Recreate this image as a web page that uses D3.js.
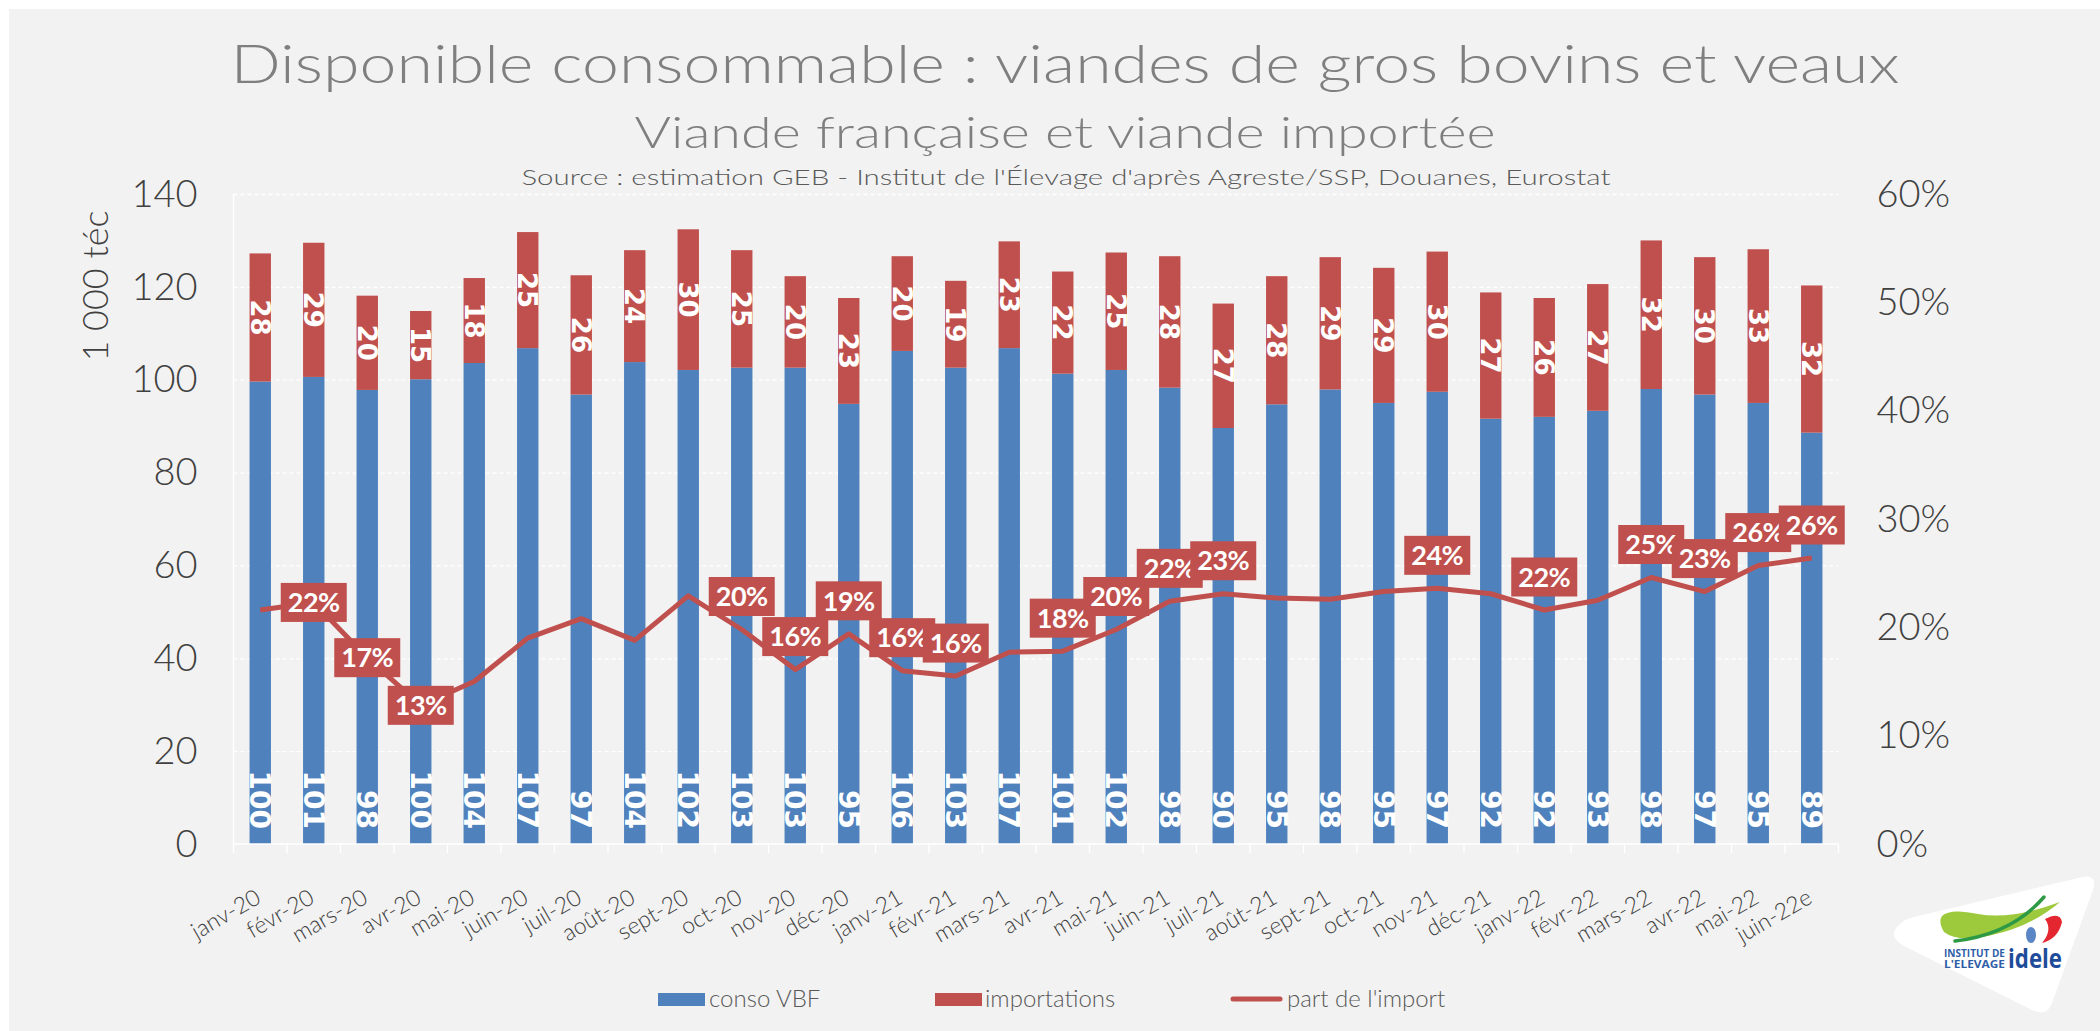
<!DOCTYPE html>
<html><head><meta charset="utf-8">
<script src="https://cdn.jsdelivr.net/npm/d3@7"></script>
<style>
html,body{margin:0;padding:0;background:#fff;}
svg{display:block;}
</style></head><body>
<svg id="chart" width="2100" height="1031"></svg>
<script>
// ---------- DATA ----------
const categories = ["janv-20","févr-20","mars-20","avr-20","mai-20","juin-20","juil-20","août-20","sept-20","oct-20","nov-20","déc-20",
  "janv-21","févr-21","mars-21","avr-21","mai-21","juin-21","juil-21","août-21","sept-21","oct-21","nov-21","déc-21",
  "janv-22","févr-22","mars-22","avr-22","mai-22","juin-22e"];
const consoVBF = [99.6,100.6,97.8,100.1,103.6,106.8,96.8,103.8,102.1,102.6,102.6,94.8,
  106.2,102.6,106.8,101.3,102.1,98.3,89.6,94.7,97.9,95.0,97.4,91.6,
  92.0,93.3,98.0,96.8,95.0,88.6];
const importations = [27.6,28.9,20.3,14.7,18.3,25.0,25.7,24.1,30.3,25.3,19.7,22.8,
  20.4,18.7,23.0,22.0,25.3,28.3,26.8,27.6,28.5,29.1,30.2,27.2,
  25.6,27.3,32.0,29.6,33.1,31.7];
const partImport = [21.6,22.3,17.2,12.8,15.0,19.0,20.8,18.8,22.9,19.8,16.1,19.4,
  16.0,15.5,17.7,17.8,19.8,22.4,23.1,22.7,22.6,23.3,23.6,23.1,
  21.6,22.5,24.6,23.3,25.7,26.4];
const labelledShare = ["févr-20","mars-20","avr-20","oct-20","nov-20","déc-20","janv-21","févr-21","avr-21","mai-21",
  "juin-21","juil-21","nov-21","janv-22","mars-22","avr-22","mai-22","juin-22e"];
const leftTicks = [0,20,40,60,80,100,120,140];
const rightTicks = [0,10,20,30,40,50,60];
const seriesNames = ["conso VBF","importations","part de l'import"];
const titleText = "Disponible consommable : viandes de gros bovins et veaux";
const subtitleText = "Viande française et viande importée";
const sourceText = "Source : estimation GEB - Institut de l'Élevage d'après Agreste/SSP, Douanes, Eurostat";
const yTitle = "1 000 téc";

// ---------- LAYOUT ----------
const W = 2100, H = 1031;
const M = {left: 233.5, right: 1838.5, top: 194, bottom: 844};
const BLUE = "#4f81bd", RED = "#c0504d";
const FONT = "Lato, 'Open Sans', sans-serif";
const centeredLabels = ["févr-20","mars-20","avr-20"];

const svg = d3.select("#chart");
svg.append("rect").attr("x", 9).attr("y", 9).attr("width", W - 9).attr("height", H - 9).attr("fill", "#f2f2f2");

const x = d3.scaleBand().domain(categories).range([M.left, M.right]).paddingInner(0.6).paddingOuter(0.3);
const y = d3.scaleLinear().domain([0, 140]).range([M.bottom, M.top]);
const y2 = d3.scaleLinear().domain([0, 60]).range([M.bottom, M.top]);
const cx = c => x(c) + x.bandwidth() / 2;

// gridlines
const grid = svg.append("g").attr("transform", `translate(${M.left},0)`)
  .call(d3.axisLeft(y).tickValues(leftTicks.slice(1)).tickSize(-(M.right - M.left)).tickFormat(""));
grid.select(".domain").remove();
grid.selectAll("line").attr("stroke", "#fff").attr("stroke-width", 1.3).attr("stroke-dasharray", "4,3");

// left axis line
svg.append("line").attr("x1", M.left).attr("x2", M.left).attr("y1", M.top).attr("y2", M.bottom)
  .attr("stroke", "#fff").attr("stroke-width", 1.5);

// left tick labels
const yAx = svg.append("g").attr("transform", `translate(${M.left - 36},0)`)
  .call(d3.axisLeft(y).tickValues(leftTicks).tickSize(0).tickPadding(0));
yAx.select(".domain").remove();
yAx.selectAll("text").attr("font-family", FONT).attr("font-weight", 300).attr("font-size", 38).attr("fill", "#404040");

// right tick labels
const yAx2 = svg.append("g").attr("transform", `translate(${M.right + 38},0)`)
  .call(d3.axisRight(y2).tickValues(rightTicks).tickSize(0).tickPadding(0).tickFormat(d => d + "%"));
yAx2.select(".domain").remove();
yAx2.selectAll("text").attr("font-family", FONT).attr("font-weight", 300).attr("font-size", 38).attr("fill", "#404040");

// y title
svg.append("text").attr("transform", `translate(108,286) rotate(-90)`).attr("text-anchor", "middle")
  .attr("font-family", FONT).attr("font-weight", 300).attr("font-size", 36).attr("fill", "#404040").text(yTitle);

// bars
const table = categories.map((c, i) => ({cat: c, conso: consoVBF[i], imp: importations[i]}));
const stacked = d3.stack().keys(["conso", "imp"])(table);
const colors = [BLUE, RED];
stacked.forEach((layer, li) => {
  svg.append("g").selectAll("rect").data(layer).join("rect")
    .attr("x", d => x(d.data.cat)).attr("width", x.bandwidth())
    .attr("y", d => y(d[1])).attr("height", d => y(d[0]) - y(d[1]))
    .attr("fill", colors[li]);
});

// bottom axis line + ticks
svg.append("line").attr("x1", M.left).attr("x2", M.right).attr("y1", M.bottom).attr("y2", M.bottom)
  .attr("stroke", "#fff").attr("stroke-width", 1.5);
const gap = (x.step() - x.bandwidth()) / 2;
const bounds = categories.map(c => x(c) - gap).concat([M.right]);
svg.append("g").selectAll("line").data(bounds).join("line")
  .attr("x1", d => d).attr("x2", d => d).attr("y1", M.bottom).attr("y2", M.bottom + 9)
  .attr("stroke", "#fff").attr("stroke-width", 1.3);

// bar labels
svg.append("g").selectAll("text").data(stacked[0]).join("text")
  .attr("transform", d => `translate(${cx(d.data.cat)},${y(0) - 15}) rotate(90)`)
  .attr("text-anchor", "end").attr("dy", "0.36em")
  .attr("font-family", "'DejaVu Sans', sans-serif").attr("font-weight", "bold").attr("font-size", 28).attr("fill", "#fff")
  .text(d => Math.round(d.data.conso));
svg.append("g").selectAll("text").data(stacked[1]).join("text")
  .attr("transform", d => `translate(${cx(d.data.cat)},${(y(d[0]) + y(d[1])) / 2}) rotate(90)`)
  .attr("text-anchor", "middle").attr("dy", "0.36em")
  .attr("font-family", "'DejaVu Sans', sans-serif").attr("font-weight", "bold").attr("font-size", 26).attr("fill", "#fff")
  .text(d => Math.round(d.data.imp));

// line
const linePts = categories.map((c, i) => ({cat: c, v: partImport[i]}));
svg.append("path").datum(linePts)
  .attr("d", d3.line().x(d => cx(d.cat)).y(d => y2(d.v)))
  .attr("fill", "none").attr("stroke", RED).attr("stroke-width", 5).attr("stroke-linejoin", "round");

// line labels
const lab = svg.append("g");
linePts.filter(d => labelledShare.includes(d.cat)).forEach(d => {
  const px = cx(d.cat);
  const py = y2(d.v) + (centeredLabels.includes(d.cat) ? 0 : -33);
  lab.append("rect").attr("x", px - 33).attr("y", py - 19.5).attr("width", 66).attr("height", 39).attr("fill", RED);
  lab.append("text").attr("x", px).attr("y", py).attr("dy", "0.36em").attr("text-anchor", "middle")
    .attr("font-family", FONT).attr("font-weight", "bold").attr("font-size", 27).attr("fill", "#fff")
    .attr("letter-spacing", -0.5)
    .text(Math.round(d.v) + "%");
});

// x labels
svg.append("g").selectAll("text").data(categories).join("text")
  .attr("transform", c => `translate(${cx(c) + 2},${M.bottom + 58}) rotate(-30)`)
  .attr("text-anchor", "end")
  .attr("font-family", FONT).attr("font-weight", 300).attr("font-size", 23).attr("fill", "#404040")
  .text(c => c);

// titles
function fitText(sel, target) {
  const w = sel.node().getComputedTextLength();
  if (Math.abs(w - target) > 4) sel.attr("textLength", target).attr("lengthAdjust", "spacingAndGlyphs");
}
const t1 = svg.append("text").attr("x", 1065).attr("y", 83).attr("text-anchor", "middle")
  .attr("font-family", FONT).attr("font-weight", 300).attr("font-size", 54).attr("fill", "#7f7f7f").text(titleText);
fitText(t1, 1669);
const t2 = svg.append("text").attr("x", 1065).attr("y", 148).attr("text-anchor", "middle")
  .attr("font-family", FONT).attr("font-weight", 300).attr("font-size", 44).attr("fill", "#7f7f7f").text(subtitleText);
fitText(t2, 861);
const t3 = svg.append("text").attr("x", 1066).attr("y", 185).attr("text-anchor", "middle")
  .attr("font-family", FONT).attr("font-weight", 300).attr("font-size", 22).attr("fill", "#595959").text(sourceText);
fitText(t3, 1089);

// legend
const lg = svg.append("g").attr("font-family", FONT).attr("font-weight", 300).attr("font-size", 24).attr("fill", "#595959");
lg.append("rect").attr("x", 658).attr("y", 993).attr("width", 47).attr("height", 13).attr("fill", BLUE);
lg.append("text").attr("x", 709).attr("y", 1007).text(seriesNames[0]);
lg.append("rect").attr("x", 935).attr("y", 993).attr("width", 47).attr("height", 13).attr("fill", RED);
lg.append("text").attr("x", 985).attr("y", 1007).text(seriesNames[1]);
lg.append("line").attr("x1", 1233).attr("x2", 1280).attr("y1", 999).attr("y2", 999)
  .attr("stroke", RED).attr("stroke-width", 5).attr("stroke-linecap", "round");
lg.append("text").attr("x", 1287).attr("y", 1007).text(seriesNames[2]);

// logo
const logo = svg.append("g");
logo.append("path").attr("d", "M1900,924 Q1886,936 1904,946 L2032,1010 Q2047,1017 2052,1003 L2093,890 Q2098,874 2082,877 L1914,917 Q1905,919 1900,924 Z")
  .attr("fill", "#fff");
logo.append("path").attr("d", "M1942,916 Q1950,908 1978,914 Q2012,920 2060,902 Q2032,926 1992,935 Q1958,943 1944,932 Q1938,922 1942,916 Z")
  .attr("fill", "#9dc93c");
logo.append("path").attr("d", "M1955,941 Q2012,934 2044,897").attr("fill", "none").attr("stroke", "#2f9a46").attr("stroke-width", 3.5).attr("stroke-linecap", "round");
logo.append("path").attr("d", "M2045,919 Q2060,911 2062,922 Q2058,939 2042,943 Q2053,930 2045,919 Z").attr("fill", "#e3262f");
logo.append("ellipse").attr("cx", 2031).attr("cy", 935).attr("rx", 5).attr("ry", 8).attr("fill", "#5b86c5");
logo.append("text").attr("x", 1944).attr("y", 957).attr("font-family", "'Open Sans', sans-serif").attr("font-weight", "bold")
  .attr("font-size", 10).attr("fill", "#2f5ea8").attr("textLength", 61).attr("lengthAdjust", "spacingAndGlyphs").text("INSTITUT DE");
logo.append("text").attr("x", 1944).attr("y", 968).attr("font-family", "'Open Sans', sans-serif").attr("font-weight", "bold")
  .attr("font-size", 10).attr("fill", "#2f5ea8").attr("textLength", 61).attr("lengthAdjust", "spacingAndGlyphs").text("L'ELEVAGE");
logo.append("text").attr("x", 2008).attr("y", 968).attr("font-family", "'Open Sans', sans-serif").attr("font-weight", "bold")
  .attr("font-size", 27).attr("fill", "#1e4c9a").attr("textLength", 54).attr("lengthAdjust", "spacingAndGlyphs").text("idele");
</script>
</body></html>
